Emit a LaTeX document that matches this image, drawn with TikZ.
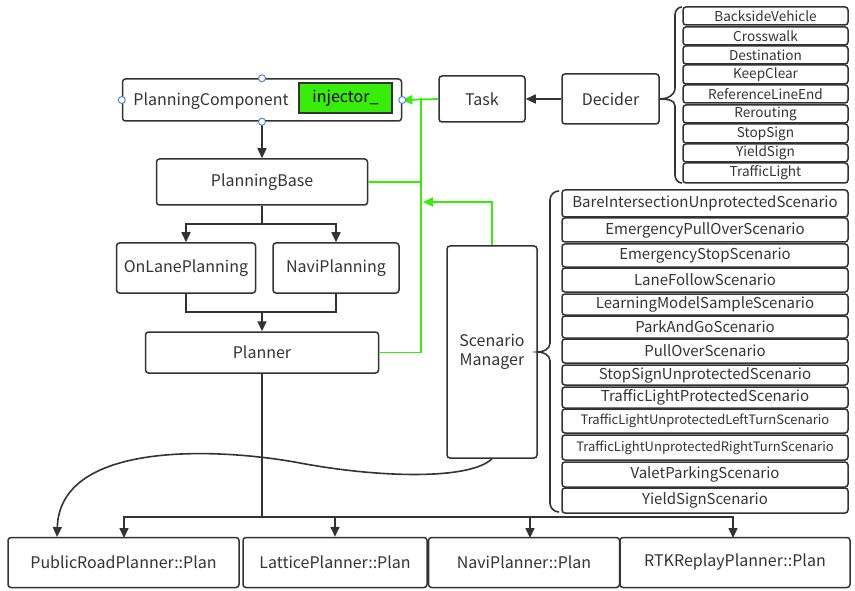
\documentclass[tikz,border=0pt]{standalone}
\usepackage{fontspec}
\setmainfont{Noto Sans CJK SC}
\usetikzlibrary{arrows.meta}
\definecolor{ink}{HTML}{333333}
\definecolor{linkgreen}{RGB}{55,238,10}
\definecolor{handleblue}{RGB}{70,125,230}
\tikzset{
  box/.style={draw=ink, line width=1.5pt, rounded corners=3pt, inner sep=0pt, text=ink},
  arr/.style={draw=ink, line width=1.6pt, -{Triangle[length=10pt,width=9pt]}},
  wire/.style={draw=ink, line width=1.6pt},
  gwire/.style={draw=linkgreen, line width=1.8pt},
  garr/.style={gwire, -{Triangle[length=10pt,width=9pt]}},
  handle/.style={circle, draw=handleblue, fill=white, line width=0.9pt, minimum size=7pt, inner sep=0pt},
}
\begin{document}
\begin{tikzpicture}[x=1pt, y=-1pt, font=\fontsize{16}{19}\selectfont]
\useasboundingbox (0,0) rectangle (855,591);

% main chain
\node[box, minimum width=279, minimum height=42] (pc) at (262,100) {};
\node[text=ink, anchor=center] (pclabel) at (211,101) {PlanningComponent};
\node[draw=ink, line width=1.8pt, fill=linkgreen, minimum width=93, minimum height=30, inner sep=0pt, text=black] (inj) at (345.5,98) {injector\_};

\node[box, minimum width=86, minimum height=46] (task) at (482,99) {Task};
\node[box, minimum width=97, minimum height=50] (decider) at (610.5,99) {Decider};

\node[box, minimum width=211, minimum height=46] (pb) at (262,182) {PlanningBase};
\node[box, minimum width=139, minimum height=50] (onlane) at (186,268) {OnLanePlanning};
\node[box, minimum width=126, minimum height=50] (navi) at (336,268) {NaviPlanning};
\node[box, minimum width=233, minimum height=41] (planner) at (262,352.5) {Planner};
\node[box, minimum width=90, minimum height=212, align=center] (sm) at (492,352) {Scenario\\Manager};

% planner implementations
\node[box, minimum width=231, minimum height=50] (pr) at (123.5,562.5) {PublicRoadPlanner::Plan};
\node[box, minimum width=184, minimum height=50] (lat) at (335,562.5) {LatticePlanner::Plan};
\node[box, minimum width=191, minimum height=50] (np) at (524,562.5) {NaviPlanner::Plan};
\node[box, minimum width=230, minimum height=50] (rtk) at (735,562.5) {RTKReplayPlanner::Plan};

% decider list
\foreach \t/\a/\b [count=\i] in {
  BacksideVehicle/7/25, Crosswalk/27/45, Destination/46/64, KeepClear/65/84,
  ReferenceLineEnd/85/103, Rerouting/105/123, StopSign/124/143,
  YieldSign/144/162, TrafficLight/163/183}
  \node[box, font=\fontsize{13.6}{14}\selectfont, minimum width=165, minimum height={\b-\a}] (dec\i) at (765.5,{(\a+\b)/2}) {\t};

% scenario list
\foreach \t/\a/\b/\s [count=\i] in {
  BareIntersectionUnprotectedScenario/190/217/15,
  EmergencyPullOverScenario/218/242/15,
  EmergencyStopScenario/244/267/15,
  LaneFollowScenario/268/292/15,
  LearningModelSampleScenario/294/315/15,
  ParkAndGoScenario/316/338/15,
  PullOverScenario/339/363/15,
  StopSignUnprotectedScenario/365/385/15,
  TrafficLightProtectedScenario/387/408/15,
  TrafficLightUnprotectedLeftTurnScenario/409/433/13,
  TrafficLightUnprotectedRightTurnScenario/435/460/13,
  ValetParkingScenario/462/487/15,
  YieldSignScenario/488/513/15}
  \node[box, font=\fontsize{\s}{\s}\selectfont, minimum width=286, minimum height={\b-\a}] (sc\i) at (705,{(\a+\b)/2}) {\t};

% braces
\draw[wire] (682,7) to[out=180,in=90] (675,15) -- (675,88) to[out=-90,in=0] (decider.east)
  to[out=0,in=90] (675,106) -- (675,175) to[out=-90,in=180] (682,183);
\draw[wire] (559,191) to[out=180,in=90] (550,200) -- (550,343) to[out=-90,in=0] (sm.east)
  to[out=0,in=90] (550,361) -- (550,503) to[out=-90,in=180] (559,512);

% black connectors
\draw[arr] (decider.west) -- (task.east);
\draw[arr] (pc.south) -- (pb.north);
\coordinate (split) at (262,224);
\draw[wire] (pb.south) -- (split);
\draw[arr] (split) -| (onlane.north);
\draw[arr] (split) -| (navi.north);
\coordinate (merge) at (262,312);
\draw[wire] (onlane.south) |- (merge);
\draw[wire] (navi.south) |- (merge);
\draw[arr] (merge) -- (planner.north);
\coordinate (bus) at (262,517);
\draw[wire] (planner.south) -- (bus);
\draw[arr] (bus) -| (124,538) coordinate (prin);
\draw[arr] (bus) -| (lat.north);
\draw[arr] (bus) -| (530,538) coordinate (npin);
\draw[arr] (bus) -| (733,538) coordinate (rtkin);
\draw[arr] (sm.south) .. controls (470,480) and (380,478) .. (300,463)
  .. controls (220,448) and (60,440) .. (57,537);

% green connectors
\coordinate (gtop) at (421,98);
\draw[garr] (task.west) -- (pc.east);
\draw[gwire] (planner.east) -| (gtop);
\draw[gwire] (pb.east) -- (pb.east -| gtop);
\draw[garr] (sm.north) |- (423,202);

% selection handles
\node[handle] (h1) at (pc.north) {};
\node[handle] (h2) at (pc.west) {};
\node[handle] (h3) at (pc.south) {};
\node[handle] (h4) at (pc.east) {};
\end{tikzpicture}
\end{document}
